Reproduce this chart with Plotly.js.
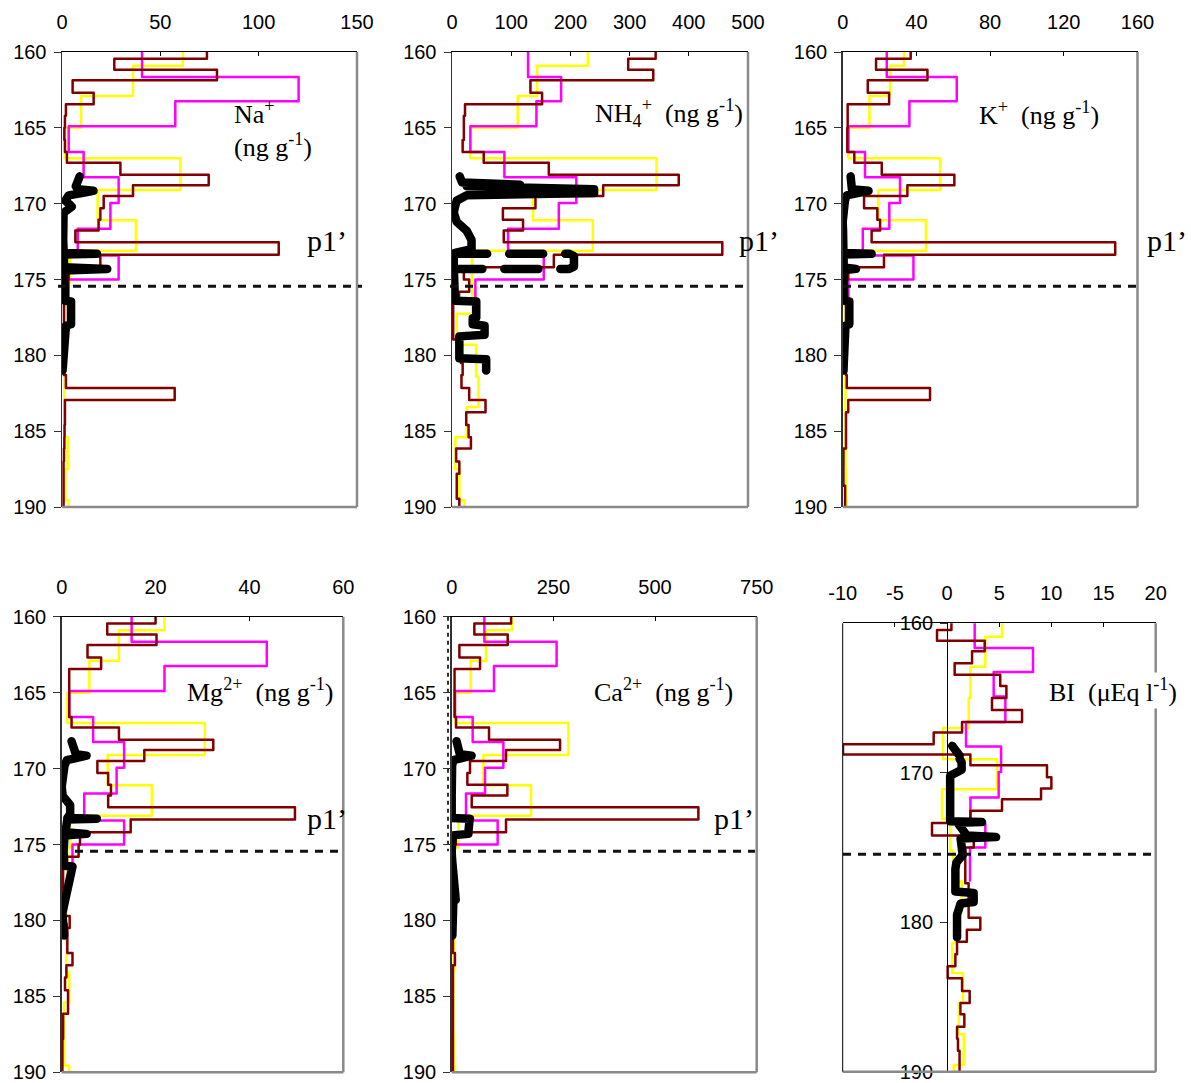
<!DOCTYPE html>
<html><head><meta charset="utf-8">
<script src="https://cdn.plot.ly/plotly-3.0.1.min.js"></script>
<style>
html,body{margin:0;padding:0;background:#fff;}
#chart{width:1191px;height:1083px;}
.js-line{stroke-linejoin:round;stroke-linecap:round;}
.cartesianlayer .plot{clip-path:none !important;}
</style></head><body><div id="chart"></div>
<script>
// ---------- depth boundaries (cm) ----------
const redDepth = [160,160.44,161.17,161.87,162.68,163.45,164.2,165.0,165.8,166.6,167.3,168.1,168.78,169.5,170.3,171.06,171.77,172.54,173.36,174.2,175.0,175.8,176.6,177.4,178.2,178.95,179.7,180.5,181.3,182.15,182.95,183.75,184.6,185.4,186.15,187.0,187.8,188.6,189.45,190.2];
const yelDepth = [160,160.9,162.9,165.0,167.0,169.1,171.1,173.1,175.2,177.25,179.3,181.4,183.4,185.4,187.5,189.55,190.3];
const magDepth = [160,161.65,163.25,164.9,166.6,168.25,169.95,171.65,173.42,175.0,177.2];
const blackDepth = [168.2,168.6,168.75,168.85,169.05,169.15,169.3,169.45,169.8,170.2,170.6,171.2,171.8,172.4,173.0,173.25,173.3,173.35,174.2,174.3,174.4,174.9,175.5,176.0,176.4,176.45,177.5,177.55,177.95,178.05,178.65,178.75,179.5,180.2,180.25,181.0];

// ---------- Na+ ----------
const naRed = [73.7,26.6,78.8,5.4,16.1,2.0,1.5,1.2,1.5,2.5,29.7,74.6,36.1,21.2,19.5,18.6,6.8,110.2,19.5,3.4,3.0,1.5,1.0,1.0,1.0,1.0,1.0,1.0,2.0,57.3,1.5,1.5,1.3,1.2,1.0,0.8,0.8,0.8,0.8];
const naYel = [61.5,36.1,9.7,1.5,60.2,18.1,37.6,3.9,1.5,1.5,1.2,1.2,1.2,2.9,1.7,3.4];
const naMag = [40.7,120.3,57.6,3.4,11.0,28.8,24.6,8.0,28.8,3.4];
const naBlk = [9,7,7,7,8,16,10,3.4,1.7,5,0.8,0.5,0.5,0.6,0.8,0.8,17.8,1,1,23,1,1,1.2,1.5,1.5,4.6,4.6,4.6,4.6,2,1.5,1.2,0.7,0.5,0.5,0.3];
// ---------- NH4+ ----------
const nh4Red = [344,297.6,340,132.5,152.2,22,20,20,18,53.6,163.5,383,255.4,141,86,120,87.4,456.6,172,20,29,12,2,2,2,10,15,18,16,29,56.6,24,28,32,7,12.4,8,8,12.4];
const nh4Yel = [229.4,143.7,111,31,345.5,137,237.9,33.8,34,8,40.7,44.7,25,5.7,12.4,21];
const nh4Mag = [128.5,184.3,142.6,31,88.5,210,180.4,94.7,155,39.5];
const nh4Blk = [13,17,115,25,240,240,240,25,8,5,3,8,25,33,33,5,3,3,3,3,3,3,5,5,5,41,41,35,35,55,55,12.4,12.4,12.4,57.7,57.7];
const nh4LoopDepth = [173.3,173.3,173.45,174.15,174.3,174.3];
const nh4LoopVal = [2,198,206,206,198,5];
// ---------- K+ ----------
const kRed = [36.9,18.1,46,13.6,25.2,2.7,2.7,2.5,2.5,6.3,21.2,60.6,35.1,11.6,18.8,20.3,15.7,147.9,22.4,3,2,1.8,1.8,1.8,1.8,1.8,1.8,1.8,2.2,47.4,3,1.8,1.8,1.8,0.4,0.4,0.4,1.3,1.3];
const kYel = [33.3,25.7,14.5,3.1,52.9,19.4,45.2,2,1.5,1.5,1.5,1.5,1.5,1.5,1.8,2.2];
const kMag = [23.9,61.9,36.2,3.1,12.1,31.1,25.3,10.9,38.4,3.1];
const kBlk = [4.3,4.5,4.5,4.5,5,14,8,2.2,1.2,0.7,0.3,0,0.2,0.3,0.4,0.4,15.7,0.5,0.5,7.2,0.5,0.4,0.5,0.5,0.8,3.6,3.6,3.6,3.6,1.5,1.5,1.3,0.8,0.5,0.5,0.4];
// ---------- Mg2+ ----------
const mgRed = [20.0,9.7,20.2,5.5,8.4,1.6,1.6,1.6,1.6,2.1,12.2,32.3,17.6,7.6,9.9,10.5,9.9,49.7,14.7,3.9,3.6,0.3,0.3,0.3,0.3,0.3,1.7,1.2,1.2,2.3,1.0,0.7,1.35,1.35,0.3,0.3,0.15,0.15,0.15];
const mgYel = [21.9,12.2,5.9,1.2,30.5,9.8,19.2,1.8,1.2,1.0,1.0,1.0,1.6,0.5,0.5,1.6];
const mgMag = [14.9,43.7,21.9,1.6,6.7,13.3,11.7,4.8,13.3,2.3];
const mgBlk = [2.1,2.5,2.5,2.5,3,5.3,3,1.1,0.6,0.4,0.2,0,0.2,1.8,1.8,1.2,7.5,1.2,0.8,5.3,0.6,0.4,0.4,0.5,0.5,2.3,1.6,1.6,1.2,0.9,0.9,0.5,0.15,0.3,0.4,0.5];
// ---------- Ca2+ ----------
const caRed = [146,55.7,137.7,18.9,69.7,7,7,7,7,10.7,91.8,266.4,133.6,45,38.5,136.9,49.2,606.6,133.6,10,3,3,3,3,3,3,3,3,3,8,3,3,3,3,3,3,3,3,3];
const caYel = [148,84.4,46.7,8.2,287,77.9,195,16.4,5,5,5,5,4,4,5,8];
const caMag = [80.3,258,104,8.2,51.6,127,82,35.2,113,4];
const caBlk = [12,16,16,16,20,49,20,4,1,0,0,0,0,0,0,0,45,44,41,41,2,0,0,1,2,3,9.9,9.9,9.9,9.9,9.9,4,1.6,1.6,1.6,1.6];
// ---------- BI ----------
const biRed = [0.42,-0.96,3.61,2.4,0.73,5.1,5.69,4.31,7.19,1.44,-1.28,-9.97,2.24,9.58,10.0,9.01,5.27,2.24,-1.44,2.56,1.75,1.75,1.75,2.07,2.07,2.07,3.19,1.9,0.96,0.8,0.06,1.44,2.17,1.28,1.66,0.96,1.05,1.2,1.2];
const biYel = [5.27,3.67,2.24,2.08,-0.38,4.79,-0.48,0.32,0.6,1.4,0.8,0.5,1.53,1.12,1.6,0.64];
const biMag = [2.65,8.24,4.47,5.59,1.82,5.18,4.95,2.24,3.67,2.2];
const biBlk = [0.5,1,1,1.2,1.2,1.4,1.4,1.4,1.4,0.3,0.3,0.5,0.5,0.4,0.4,0.3,3.35,1,1.9,4.7,1.3,1.3,1.5,0.9,0.8,0.8,0.8,0.8,0.8,2.55,2.55,1.3,0.96,0.96,0.96,0.96];

// ---------- axis ticks ----------
const naTicks = [0,50,100,150], nh4Ticks = [0,100,200,300,400,500], kTicks = [0,40,80,120,160];
const mgTicks = [0,20,40,60], caTicks = [0,250,500,750], biTicks = [-10,-5,0,5,10,15,20];
const biTickText = ['-10','-5','0','5','10','15','20'];
const depthTicks = [160,165,170,175,180,185,190], biDepthTicks = [160,170,180,190];

const W=1191, H=1083;
const X = p => p/W, Y = p => 1 - p/H;
const YEL='#FFFF00', MAG='#FF00FF', RED='#800000';

const panels = [
 {xr:[0,150], xt:naTicks, xd:[62,357], yd:[52,507], red:naRed, yel:naYel, mag:naMag, blk:naBlk, dash:[58,362],
  lab:[['Na<sup>+</sup>',232,112],['(ng g<sup>-1</sup>)',232,145]], p1:[305,240]},
 {xr:[0,500], xt:nh4Ticks, xd:[452,748], yd:[52,507], red:nh4Red, yel:nh4Yel, mag:nh4Mag, blk:nh4Blk, dash:[450,745],
  lab:[['NH<sub>4</sub><sup>+</sup>&nbsp; (ng g<sup>-1</sup>)',593,113]], p1:[737,240]},
 {xr:[0,160], xt:kTicks, xd:[842.7,1137.5], yd:[52,507], red:kRed, yel:kYel, mag:kMag, blk:kBlk, dash:[843,1142],
  lab:[['K<sup>+</sup>&nbsp; (ng g<sup>-1</sup>)',977,113]], p1:[1145,240]},
 {xr:[0,60], xt:mgTicks, xd:[61.7,343.3], yd:[616.7,1072.3], red:mgRed, yel:mgYel, mag:mgMag, blk:mgBlk, dash:[75,342],
  lab:[['Mg<sup>2+</sup>&nbsp; (ng g<sup>-1</sup>)',185,690]], p1:[305,818]},
 {xr:[0,750], xt:caTicks, xd:[451.7,756.7], yd:[616.7,1072.3], red:caRed, yel:caYel, mag:caMag, blk:caBlk, dash:[463,755],
  lab:[['Ca<sup>2+</sup>&nbsp; (ng g<sup>-1</sup>)',592,690]], p1:[712,818]},
 {xr:[-10,20], xt:biTicks, xtt:biTickText, xd:[842.7,1155.7], yd:[623.3,1071.7], red:biRed, yel:biYel, mag:biMag, blk:biBlk, dash:[843,1155],
  lab:[['BI&nbsp; (μEq l<sup>-1</sup>)',1047,690]], p1:null, bi:true}
];

const traces = [], shapes = [], annotations = [];
const layout = {width:W, height:H, margin:{l:0,r:0,t:0,b:0}, showlegend:false,
  paper_bgcolor:'#fff', plot_bgcolor:'rgba(0,0,0,0)', shapes, annotations};
const tickFont = {family:'Liberation Sans, Arial, sans-serif', size:20, color:'#000'};
const serif = {family:'Liberation Serif, Times New Roman, serif', size:26, color:'#000'};

function step(depths, vals, color, xa, ya){
  return {type:'scatter', mode:'lines', x:vals.concat([vals[vals.length-1]]), y:depths,
    xaxis:xa, yaxis:ya, line:{shape:'vh', color:color, width:2.5}, hoverinfo:'skip'};
}

panels.forEach((p,i) => {
  const n = i===0 ? '' : String(i+1);
  const xa = 'x'+n, ya = 'y'+n;
  const xax = {domain:[X(p.xd[0]),X(p.xd[1])], anchor:ya, side:'top', range:p.xr,
    tickmode:'array', tickvals:p.xt, ticks:'inside', ticklen:4, tickcolor:'#000',
    showline:true, linecolor:'#000', linewidth:1, showgrid:false, zeroline:false,
    tickfont:tickFont, ticklabelstandoff:14, ticklabeloverflow:'allow', fixedrange:true};
  if (p.xtt) xax.ticktext = p.xtt;
  layout['xaxis'+n] = xax;
  const yax = {domain:[Y(p.yd[1]),Y(p.yd[0])], range:[190,160],
    tickmode:'array', tickvals: p.bi ? biDepthTicks : depthTicks, ticks:'outside', ticklen:7,
    tickcolor:'#333', showline:true, linecolor: p.bi ? '#000' : '#333', linewidth: p.bi ? 1 : 1.5,
    showgrid:false, zeroline:false, tickfont:tickFont, ticklabelstandoff:3,
    ticklabeloverflow:'allow', fixedrange:true};
  if (p.bi){ yax.anchor='free'; yax.position = X(p.xd[0] + (p.xd[1]-p.xd[0])*(0-p.xr[0])/(p.xr[1]-p.xr[0])); }
  else yax.anchor = xa;
  layout['yaxis'+n] = yax;

  traces.push(step(yelDepth, p.yel, YEL, xa, ya));
  traces.push(step(magDepth, p.mag, MAG, xa, ya));
  traces.push(step(redDepth, p.red, RED, xa, ya));
  traces.push({type:'scatter', mode:'lines', x:p.blk, y:blackDepth, xaxis:xa, yaxis:ya,
    line:{color:'#000', width:8.5}, hoverinfo:'skip'});
  if (i===1){
    traces.push({type:'scatter', mode:'lines', x:nh4LoopVal, y:nh4LoopDepth, xaxis:xa, yaxis:ya,
      line:{color:'#000', width:8.5, dash:'34px,22px'}, hoverinfo:'skip'});
  }
  const gray = {color:'#8a8a8a', width:2.5};
  shapes.push({type:'line', xref:'paper', yref:'paper', x0:X(p.xd[1]), x1:X(p.xd[1]), y0:Y(p.yd[0]), y1:Y(p.yd[1]), line:gray});
  shapes.push({type:'line', xref:'paper', yref:'paper', x0:X(p.xd[0]), x1:X(p.xd[1]), y0:Y(p.yd[1]), y1:Y(p.yd[1]), line:gray});
  if (p.bi){
    shapes.push({type:'line', xref:'paper', yref:'paper', x0:X(p.xd[0]), x1:X(p.xd[0]), y0:Y(p.yd[0]), y1:Y(p.yd[1]), line:{color:'#000', width:1}});
  }
  shapes.push({type:'line', xref:'paper', yref:ya, x0:X(p.dash[0]), x1:X(p.dash[1]), y0:175.45, y1:175.45,
    line:{color:'#111', width:3, dash:'8px,7px'}});
  if (i===4){
    shapes.push({type:'line', xref:'paper', yref:ya, x0:X(448), x1:X(448), y0:160, y1:175.45,
      line:{color:'#333', width:2, dash:'4px,4px'}});
  }
  p.lab.forEach(l => annotations.push({text:l[0], xref:'paper', yref:'paper', x:X(l[1]), y:Y(l[2]),
    xanchor:'left', yanchor:'middle', showarrow:false, font:serif, bgcolor: p.bi ? '#fff' : 'rgba(0,0,0,0)'}));
  if (p.p1) annotations.push({text:'p1’', xref:'paper', yref:'paper', x:X(p.p1[0]), y:Y(p.p1[1]),
    xanchor:'left', yanchor:'middle', showarrow:false, font:{family:serif.family, size:30, color:'#000'}});
});

Plotly.newPlot('chart', traces, layout, {staticPlot:true, displayModeBar:false});
</script></body></html>
